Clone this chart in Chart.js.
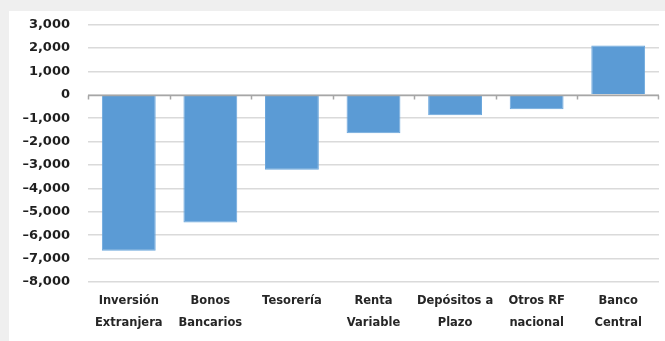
<!DOCTYPE html>
<html>
<head>
<meta charset="utf-8">
<script src="https://cdn.jsdelivr.net/npm/chart.js@4.4.1/dist/chart.umd.min.js"></script>
<style>
    html, body { margin: 0; padding: 0; background: #efefef; }
    .panel { position: absolute; left: 9px; top: 11px; width: 656px; height: 330px; background: #ffffff; }
    canvas { display: block; }
</style>
</head>
<body>
<div class="panel"><canvas id="chart" width="656" height="330"></canvas></div>
<script>
// categories and values
const categories = [
    ['Inversión', 'Extranjera'],
    ['Bonos', 'Bancarios'],
    ['Tesorería'],
    ['Renta', 'Variable'],
    ['Depósitos a', 'Plazo'],
    ['Otros RF', 'nacional'],
    ['Banco', 'Central']
];
const flows = [-6670, -5460, -3200, -1650, -880, -620, 2100];

const yMin = -8000;
const yMax = 3000;
const yStep = 1000;

// zero line with small ticks between categories
const zeroLinePlugin = {
    id: 'zeroLine',
    afterDatasetsDraw(chart) {
        const ctx = chart.ctx;
        const x = chart.scales.x;
        const y = chart.scales.y;
        const y0 = Math.round(y.getPixelForValue(0)) + 0.5;
        const half = (x.getPixelForTick(1) - x.getPixelForTick(0)) / 2;
        ctx.save();
        ctx.strokeStyle = '#a6a6a6';
        ctx.lineWidth = 1.5;
        ctx.beginPath();
        ctx.moveTo(x.left, y0);
        ctx.lineTo(x.right, y0);
        for (let i = 0; i < categories.length; i++) {
            const bx = Math.round(x.getPixelForTick(i) - half) + 0.5;
            ctx.moveTo(bx, y0);
            ctx.lineTo(bx, y0 + 4);
        }
        ctx.moveTo(Math.round(x.right) - 0.5, y0);
        ctx.lineTo(Math.round(x.right) - 0.5, y0 + 4);
        ctx.stroke();
        ctx.restore();
    }
};

function formatTick(value) {
    const txt = Math.abs(value).toLocaleString('en-US');
    return value < 0 ? '–' + txt : txt;
}

new Chart(document.getElementById('chart'), {
    type: 'bar',
    data: {
        labels: categories,
        datasets: [{
            data: flows,
            backgroundColor: '#5b9bd5',
            borderColor: '#6aa6dc',
            borderWidth: 1,
            barPercentage: 0.66,
            categoryPercentage: 1
        }]
    },
    plugins: [zeroLinePlugin],
    options: {
        responsive: false,
        animation: false,
        layout: { padding: { top: 13.5, right: 6, left: 0, bottom: 0 } },
        plugins: {
            legend: { display: false },
            tooltip: { enabled: false }
        },
        scales: {
            x: {
                grid: { display: false },
                border: { display: false },
                ticks: {
                    color: '#262626',
                    font: { family: 'DejaVu Sans', size: 11.5, weight: 'bold', lineHeight: 1.9 },
                    padding: 0,
                    maxRotation: 0,
                    autoSkip: false
                },
                afterFit(scale) { scale.height = 59; }
            },
            y: {
                min: yMin,
                max: yMax,
                grid: {
                    color: '#dadada',
                    lineWidth: 1.5,
                    drawTicks: false
                },
                border: { display: false },
                ticks: {
                    stepSize: yStep,
                    color: '#1f1f1f',
                    font: { family: 'DejaVu Sans', size: 13, weight: 'bold' },
                    padding: 18,
                    callback: formatTick
                },
                afterFit(scale) {
                    scale.width = 79;
                    // tick padding would otherwise push the plot down
                    scale.paddingTop = 0;
                    scale.paddingBottom = 0;
                }
            }
        }
    }
});
</script>
</body>
</html>
